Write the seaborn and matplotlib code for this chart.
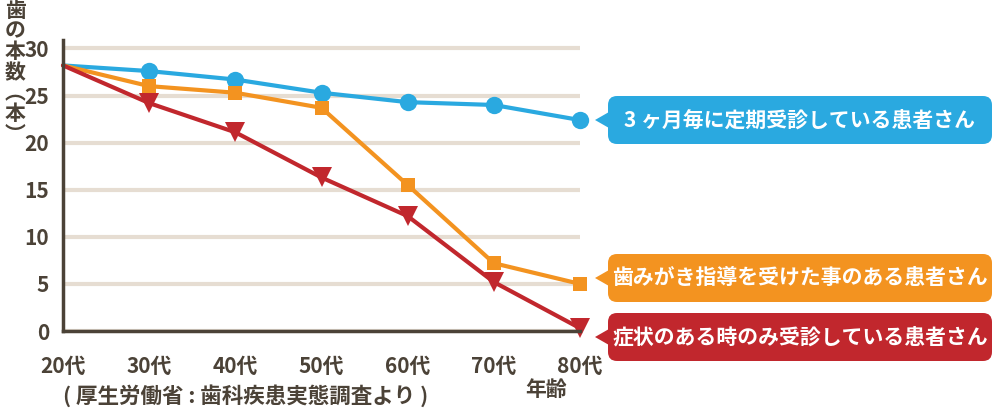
import matplotlib
matplotlib.use("Agg")
import matplotlib.pyplot as plt
import seaborn as sns
from matplotlib.patches import FancyBboxPatch, Polygon
from matplotlib.transforms import IdentityTransform

# data
ages = [20, 30, 40, 50, 60, 70, 80]
age_labels = ["20代", "30代", "40代", "50代", "60代", "70代", "80代"]
regular = [28.2, 27.6, 26.7, 25.3, 24.3, 24.0, 22.4]
guided = [28.2, 26.0, 25.3, 23.7, 15.5, 7.2, 5.0]
symptom = [28.2, 24.2, 21.1, 16.3, 12.2, 5.2, 0.3]
yticks = [0, 5, 10, 15, 20, 25, 30]
series_labels = ["3 ヶ月毎に定期受診している患者さん",
                 "歯みがき指導を受けた事のある患者さん",
                 "症状のある時のみ受診している患者さん"]

BLUE = "#2aa9e0"
ORANGE = "#f39320"
RED = "#c1272d"
DARK = "#4b4237"
GRID = "#e6ddd2"

sns.set_style("white")
plt.rcParams["font.family"] = ["Noto Sans CJK JP", "DejaVu Sans"]
plt.rcParams["font.weight"] = "bold"

W, H = 993, 412
fig = plt.figure(figsize=(W / 100, H / 100), dpi=100)
ax = fig.add_axes([63 / W, (H - 331) / H, (580 - 63) / W, (331 - 40) / H])

for vals, color, marker, ms in [(regular, BLUE, "o", 12.5),
                                (guided, ORANGE, "s", 10.5),
                                (symptom, RED, "v", 14)]:
    sns.lineplot(x=ages, y=vals, ax=ax, color=color, lw=3, marker=marker,
                 markersize=ms, markeredgewidth=0, markevery=list(range(1, len(ages))),
                 clip_on=False, zorder=5)

ax.set_xlim(20, 80)
ax.set_ylim(0, 30.9)
ax.set_yticks(yticks)
ax.set_xticks(ages)
ax.set_xticklabels(age_labels)
ax.grid(axis="y", color=GRID, lw=3)
ax.set_axisbelow(True)
for s in ["top", "right"]:
    ax.spines[s].set_visible(False)
for s in ["left", "bottom"]:
    ax.spines[s].set_color(DARK)
    ax.spines[s].set_linewidth(2.5)
    ax.spines[s].set_zorder(6)
ax.tick_params(axis="y", length=0, pad=10, labelsize=15, labelcolor=DARK)
ax.tick_params(axis="x", direction="in", length=6, width=3, color=GRID,
               pad=18, labelsize=15, labelcolor=DARK)
ax.xaxis.get_major_ticks()[0].tick1line.set_visible(False)

# vertical y-axis title
ylab = ["歯", "の", "本", "数", "︵", "本", "︶"]
fig.text(15 / W, 1 - 0 / H, "\n".join(ylab), ha="center", va="top",
         fontsize=15, color=DARK, linespacing=0.98)

fig.text(546 / W, 1 - 389 / H, "年齢", ha="center", va="center",
         fontsize=15, color=DARK)
fig.text(246 / W, 1 - 396 / H, "( 厚生労働省 : 歯科疾患実態調査より )",
         ha="center", va="center", fontsize=15.5, color=DARK)

# callout boxes
tr = IdentityTransform()
for label, color, (top, bot) in zip(series_labels, [BLUE, ORANGE, RED],
                                    [(96, 144), (254, 302), (313, 361)]):
    box = FancyBboxPatch((608, H - bot), 992 - 608, bot - top,
                         boxstyle="round,pad=0,rounding_size=9",
                         transform=tr, fc=color, ec="none")
    fig.patches.append(box)
    mid = (top + bot) / 2
    fig.patches.append(Polygon([(595, H - mid), (609, H - mid + 8), (609, H - mid - 8)],
                               closed=True, transform=tr, fc=color, ec="none"))
    fig.text(800 / W, 1 - mid / H, label, ha="center", va="center",
             fontsize=15, color="white")

fig.savefig("out.png", dpi=100)
